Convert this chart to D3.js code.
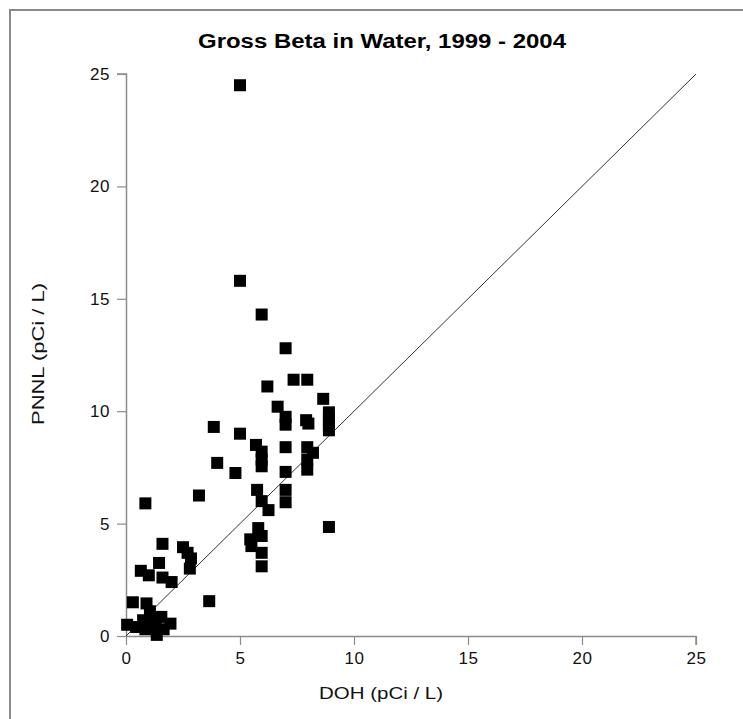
<!DOCTYPE html>
<html>
<head>
<meta charset="utf-8">
<script src="https://cdn.jsdelivr.net/npm/d3@7"></script>
<style>
  html, body { margin: 0; padding: 0; background: #fff; }
  svg { display: block; }
</style>
</head>
<body>
<div id="chart"></div>
<script>
// Paired gross beta results (pCi/L): DOH measurement vs PNNL measurement
const doh = [
  5.0, 5.0, 5.95, 7.0, 7.35, 7.95, 6.2, 8.65, 6.65, 7.0,
  7.0, 7.9, 8.0, 8.9, 8.9, 8.9, 8.9, 3.85, 5.0, 5.7,
  5.95, 5.95, 5.95, 7.0, 7.95, 8.2, 7.95, 7.95, 4.0, 4.8,
  7.0, 3.2, 5.75, 7.0, 7.0, 5.95, 6.25, 0.85, 8.9, 5.8,
  5.95, 5.45, 5.5, 5.95, 5.95, 3.65, 1.6, 2.5, 2.85, 2.8,
  2.7, 1.45, 0.65, 1.0, 1.6, 2.0, 0.3, 0.9, 1.05, 0.05,
  0.45, 1.2, 1.55, 1.95, 1.35, 0.85, 1.65, 1.05, 0.75, 1.3
];
const pnnl = [
  24.5, 15.8, 14.3, 12.8, 11.4, 11.4, 11.1, 10.55, 10.2, 9.75,
  9.4, 9.6, 9.45, 9.95, 9.65, 9.4, 9.15, 9.3, 9.0, 8.5,
  8.2, 7.85, 7.55, 8.4, 8.4, 8.15, 7.85, 7.4, 7.7, 7.25,
  7.3, 6.25, 6.5, 6.5, 5.95, 6.0, 5.6, 5.9, 4.85, 4.8,
  4.45, 4.3, 4.0, 3.7, 3.1, 1.55, 4.1, 3.95, 3.45, 3.0,
  3.7, 3.25, 2.9, 2.7, 2.6, 2.4, 1.5, 1.45, 1.1, 0.5,
  0.4, 0.7, 0.85, 0.55, 0.05, 0.3, 0.3, 0.35, 0.7, 0.4
];
// 1:1 reference line endpoints
const lineX = [0, 25];
const lineY = [0, 25];
const tickValues = [0, 5, 10, 15, 20, 25];
const titleText = "Gross Beta in Water, 1999 - 2004";
const xTitle = "DOH (pCi / L)";
const yTitle = "PNNL (pCi / L)";

const W = 743, H = 719;
const plot = { left: 126, right: 696, top: 74, bottom: 636 };
const axisColor = "#8c8c8c";
const font = "Arial, 'Liberation Sans', sans-serif";

const svg = d3.select("#chart").append("svg")
  .attr("width", W).attr("height", H);

// outer frame (left and top edges visible; the rest runs off the page)
svg.append("rect")
  .attr("x", 10).attr("y", 10)
  .attr("width", 760).attr("height", 760)
  .attr("fill", "none").attr("stroke", "#8a8a8a").attr("stroke-width", 2);

const x = d3.scaleLinear().domain([0, 25]).range([plot.left, plot.right]);
const y = d3.scaleLinear().domain([0, 25]).range([plot.bottom, plot.top]);

// title
svg.append("text")
  .attr("x", 382).attr("y", 48)
  .attr("text-anchor", "middle")
  .attr("font-family", font).attr("font-weight", "bold")
  .attr("font-size", 20)
  .attr("textLength", 368).attr("lengthAdjust", "spacingAndGlyphs")
  .attr("fill", "#000")
  .text(titleText);

// axes
const xAxis = svg.append("g")
  .attr("transform", `translate(0,${plot.bottom})`)
  .call(d3.axisBottom(x).tickValues(tickValues).tickSize(9).tickPadding(7).tickFormat(d3.format("d")));
const yAxis = svg.append("g")
  .attr("transform", `translate(${plot.left},0)`)
  .call(d3.axisLeft(y).tickValues(tickValues).tickSize(9).tickPadding(7).tickFormat(d3.format("d")));

[xAxis, yAxis].forEach(g => {
  g.select(".domain").attr("stroke", axisColor).attr("stroke-width", 1.5);
  g.selectAll(".tick line").attr("stroke", axisColor).attr("stroke-width", 1.2);
  g.selectAll(".tick text")
    .attr("font-family", font).attr("font-size", 17)
    .attr("letter-spacing", 0.6).attr("fill", "#111");
});
// plain axis lines without end-caps
xAxis.select(".domain").attr("d", `M${plot.left},0.5H${plot.right}V9`);
yAxis.select(".domain").attr("d", `M-9,${plot.top}H0.5V${plot.bottom}`);

// 1:1 line
svg.append("line")
  .attr("x1", x(lineX[0])).attr("y1", y(lineY[0]))
  .attr("x2", x(lineX[1])).attr("y2", y(lineY[1]))
  .attr("stroke", "#333").attr("stroke-width", 1);

// data squares
const size = 12;
svg.append("g").selectAll("rect")
  .data(d3.range(doh.length))
  .join("rect")
  .attr("x", i => x(doh[i]) - size / 2)
  .attr("y", i => y(pnnl[i]) - size / 2)
  .attr("width", size).attr("height", size)
  .attr("fill", "#000");

// axis titles
svg.append("text")
  .attr("x", 381).attr("y", 699)
  .attr("text-anchor", "middle")
  .attr("font-family", font).attr("font-size", 17).attr("fill", "#111")
  .attr("textLength", 124).attr("lengthAdjust", "spacingAndGlyphs")
  .text(xTitle);
svg.append("text")
  .attr("transform", "translate(44,354) rotate(-90)")
  .attr("text-anchor", "middle")
  .attr("font-family", font).attr("font-size", 17).attr("fill", "#111")
  .attr("textLength", 142).attr("lengthAdjust", "spacingAndGlyphs")
  .text(yTitle);
</script>
</body>
</html>
